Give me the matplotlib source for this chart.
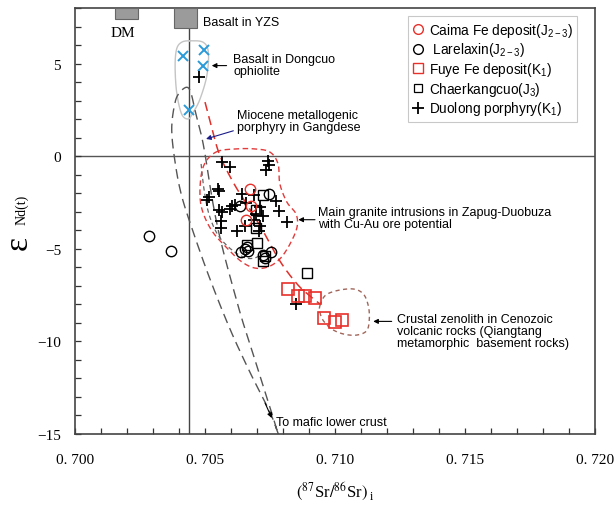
import numpy as np
import matplotlib
matplotlib.use('Agg')
import matplotlib.pyplot as plt
from matplotlib.lines import Line2D
from matplotlib.patches import Rectangle
from matplotlib.ticker import MultipleLocator, FixedLocator
from matplotlib import font_manager

# ---- data (87Sr/86Sr)i , eNd(t) ----
caima_sr = [0.70673, 0.70677, 0.70658]
caima_nd = [-1.77, -2.69, -3.43]

larelaxin_sr = [0.70285, 0.70369, 0.70635, 0.70747, 0.70640, 0.70654,
                0.70667, 0.70662, 0.70722, 0.70731, 0.70754]
larelaxin_nd = [-4.29, -5.10, -2.67, -2.04, -5.17, -5.01,
                -5.12, -4.93, -5.34, -5.50, -5.17]

fuye_sr = [0.70820, 0.70859, 0.70885, 0.70923, 0.70959, 0.71000, 0.71026]
fuye_nd = [-7.17, -7.53, -7.53, -7.68, -8.76, -8.97, -8.85]

chaer_sr = [0.70724, 0.70696, 0.70696, 0.70660, 0.70700, 0.70722, 0.70731, 0.70891]
chaer_nd = [-2.10, -2.89, -3.90, -4.77, -4.69, -5.64, -5.39, -6.31]

duolong_sr = [0.70478, 0.70565, 0.70596, 0.70743, 0.70747, 0.70735, 0.70550,
              0.70554, 0.70515, 0.70506, 0.70642, 0.70688, 0.70773, 0.70604,
              0.70617, 0.70596, 0.70658, 0.70552, 0.70565, 0.70560, 0.70560,
              0.70712, 0.70696, 0.70724, 0.70688, 0.70786, 0.70814, 0.70624,
              0.70654, 0.70712, 0.70709, 0.70849]
duolong_nd = [4.26, -0.32, -0.60, -0.25, -0.48, -0.75, -1.75,
              -1.88, -2.18, -2.34, -2.04, -2.10, -2.42, -2.69,
              -2.64, -2.83, -2.53, -2.93, -3.02, -3.48, -3.90,
              -2.76, -3.12, -3.25, -3.42, -2.95, -3.57, -4.02,
              -3.75, -3.75, -4.02, -7.98]

dongcuo_sr = [0.70414, 0.70497, 0.70493, 0.70440]
dongcuo_nd = [5.39, 5.75, 4.88, 2.49]

# reference fields / curves
bse_sr = 0.70438
dm_box = (0.70154, 0.70241, 7.41, 8.0)
yzs_box = (0.70382, 0.70468, 6.90, 8.0)

dongcuo_field_sr = [0.70442, 0.70493, 0.70513, 0.70507, 0.70481, 0.70455,
                    0.70436, 0.70410, 0.70391, 0.70385, 0.70391, 0.70410]
dongcuo_field_nd = [6.23, 6.15, 5.61, 4.34, 3.09, 2.37,
                    2.01, 2.28, 3.45, 4.88, 5.79, 6.15]

miocene_sr = [0.70782, 0.70750, 0.70673, 0.70596, 0.70519, 0.70455, 0.70410,
              0.70385, 0.70372, 0.70385, 0.70404, 0.70430, 0.70446,
              0.70465, 0.70485, 0.70500, 0.70515, 0.70531, 0.70550, 0.70573,
              0.70604, 0.70642, 0.70685, 0.70727, 0.70758, 0.70781]
miocene_nd = [-15.0, -13.83, -11.67, -9.33, -6.63, -4.11, -2.13,
              -0.33, 1.47, 2.91, 3.46, 3.72, 3.41,
              2.28, 1.20, 0.12, -1.23, -2.58, -3.93, -5.28,
              -6.90, -8.79, -10.68, -12.57, -13.92, -15.0]

arc_sr = [0.70485, 0.70496, 0.70515, 0.70550, 0.70604, 0.70658, 0.70700, 0.70723]
arc_nd = [-0.42, -1.77, -3.12, -4.26, -5.07, -5.50, -5.45, -5.12]

granite_sr = [0.70542, 0.70615, 0.70692, 0.70750, 0.70781, 0.70788, 0.70815,
              0.70850, 0.70854, 0.70827, 0.70788, 0.70742, 0.70692, 0.70642,
              0.70588, 0.70527, 0.70488, 0.70481, 0.70496]
granite_nd = [0.22, 0.39, 0.39, 0.22, -0.42, -1.50, -2.48,
              -3.12, -3.83, -4.74, -5.55, -5.98, -6.04, -5.71,
              -5.01, -4.04, -2.85, -1.67, -0.48]

zenolith_sr = [0.70942, 0.70962, 0.71007, 0.71070, 0.71109, 0.71128, 0.71132,
               0.71122, 0.71083, 0.71032, 0.70987, 0.70955, 0.70942]
zenolith_nd = [-8.07, -7.53, -7.26, -7.17, -7.44, -8.07, -8.79,
               -9.42, -9.66, -9.60, -9.33, -8.88, -8.43]

mixing_sr = [0.70500, 0.70527, 0.70558, 0.70612, 0.70665, 0.70719,
             0.70788, 0.70854, 0.70904, 0.70942]
mixing_nd = [2.92, 1.47, 0.01, -1.50, -2.69, -3.93,
             -5.66, -6.90, -7.55, -7.98]

xtick_vals = [0.700, 0.705, 0.710, 0.715, 0.720]
xtick_labels = ['0. 700', '0. 705', '0. 710', '0. 715', '0. 720']
ytick_vals = [5, 0, -5, -10, -15]
ytick_labels = ['5', '0', '\u22125', '\u221210', '\u221215']

names = {f.name for f in font_manager.fontManager.ttflist}
NARROW = 'Liberation Sans Narrow' if 'Liberation Sans Narrow' in names else 'Liberation Sans'
ANN_FS = 10 if NARROW == 'Liberation Sans Narrow' else 9.0
LEG_FS = 11.5 if NARROW == 'Liberation Sans Narrow' else 9.8
SERIF = 'Liberation Serif'
plt.rcParams['mathtext.fontset'] = 'custom'
plt.rcParams['mathtext.rm'] = NARROW
plt.rcParams['mathtext.it'] = NARROW


def smooth(xs, ys, closed=False, n=24):
    # Catmull-Rom through the points, in roughly isotropic units
    P = np.column_stack([np.asarray(xs) * 26000, np.asarray(ys) * 18.52])
    if closed:
        P = np.vstack([P[-1], P, P[0], P[1]])
    else:
        P = np.vstack([2 * P[0] - P[1], P, 2 * P[-1] - P[-2]])
    t = np.linspace(0, 1, n, endpoint=False)[:, None]
    out = []
    for i in range(1, len(P) - 2):
        p0, p1, p2, p3 = P[i - 1], P[i], P[i + 1], P[i + 2]
        seg = 0.5 * (2 * p1 + (-p0 + p2) * t + (2 * p0 - 5 * p1 + 4 * p2 - p3) * t ** 2
                     + (-p0 + 3 * p1 - 3 * p2 + p3) * t ** 3)
        out.append(seg)
    out.append(P[-2][None])
    R = np.vstack(out)
    return R[:, 0] / 26000, R[:, 1] / 18.52


fig = plt.figure(figsize=(6.14, 5.06), dpi=100)
ax = fig.add_axes([75 / 614, 1 - 435 / 506, 520 / 614, 426 / 506])
ax.set_xlim(0.700, 0.720)
ax.set_ylim(-15, 8)

# reference lines
ax.axhline(0, color='#555555', lw=1.0, zorder=1)
ax.axvline(bse_sr, color='#444444', lw=1.0, zorder=1)
for x0, x1, y0, y1 in (dm_box, yzs_box):
    ax.add_patch(Rectangle((x0, y0), x1 - x0, y1 - y0, facecolor='#9b9b9b',
                           edgecolor='#666666', lw=0.8, zorder=3, clip_on=False))

# fields
fx, fy = smooth(dongcuo_field_sr, dongcuo_field_nd, closed=True)
ax.plot(fx, fy, color='#c4c4c4', lw=1.0, zorder=2)
fx, fy = smooth(miocene_sr, miocene_nd)
ax.plot(fx, fy, color='#555555', lw=1.0, dashes=(7, 4), zorder=2)
fx, fy = smooth(arc_sr, arc_nd)
ax.plot(fx, fy, color='#666666', lw=0.9, dashes=(3.5, 2.5), zorder=2)
fx, fy = smooth(granite_sr, granite_nd, closed=True)
ax.plot(fx, fy, color='#e23b3b', lw=1.0, dashes=(4, 2.5), zorder=2)
fx, fy = smooth(zenolith_sr, zenolith_nd, closed=True)
ax.plot(fx, fy, color='#a0665a', lw=1.0, dashes=(3, 2.5), zorder=2)
fx, fy = smooth(mixing_sr, mixing_nd)
ax.plot(fx, fy, color='#e0302a', lw=1.1, dashes=(6, 3.5), zorder=2)

# samples
red = '#e8302a'
ax.plot(dongcuo_sr, dongcuo_nd, 'x', color='#2a9ad8', ms=7, mew=1.4, zorder=5)
ax.plot(duolong_sr, duolong_nd, '+', color='black', ms=9, mew=1.3, zorder=5)
ax.plot(larelaxin_sr, larelaxin_nd, 'o', mfc='none', mec='black', ms=7.5, mew=1.0, zorder=5)
ax.plot(chaer_sr, chaer_nd, 's', mfc='none', mec='black', ms=6.5, mew=1.0, zorder=5)
ax.plot(caima_sr, caima_nd, 'o', mfc='none', mec=red, ms=7.5, mew=1.0, zorder=6)
ax.plot(fuye_sr, fuye_nd, 's', mfc='none', mec=red, ms=8.5, mew=1.2, zorder=6)

# labels and arrows
ax.text(0.70185, 6.70, 'DM', family=SERIF, fontsize=11, ha='center', va='center')
ax.text(0.70492, 7.24, 'Basalt in YZS', family=NARROW, fontsize=ANN_FS, va='center')
ax.text(0.70608, 4.92, 'Basalt in Dongcuo\nophiolite', family=NARROW, fontsize=ANN_FS,
        va='center', linespacing=1.05)
ax.text(0.70623, 1.90, 'Miocene metallogenic\nporphyry in Gangdese', family=NARROW,
        fontsize=ANN_FS, va='center', linespacing=1.05)
ax.text(0.70935, -3.34, 'Main granite intrusions in Zapug-Duobuza\nwith Cu-Au ore potential',
        family=NARROW, fontsize=ANN_FS, va='center', linespacing=1.05)
ax.text(0.71238, -9.44, 'Crustal zenolith in Cenozoic\nvolcanic rocks (Qiangtang\n'
        'metamorphic  basement rocks)', family=NARROW, fontsize=ANN_FS, va='center',
        linespacing=1.05)
ax.text(0.70773, -14.35, 'To mafic lower crust', family=NARROW, fontsize=ANN_FS, va='center')


def arrow(p0, p1, color='black'):
    ax.annotate('', xy=p1, xytext=p0,
                arrowprops=dict(arrowstyle='-|>', color=color, lw=0.8,
                                mutation_scale=7, shrinkA=0, shrinkB=0))


arrow((0.70583, 4.89), (0.70526, 4.89))
arrow((0.70609, 1.37), (0.70504, 0.93), color='#1c1c8a')
arrow((0.70923, -3.43), (0.70859, -3.43))
arrow((0.71218, -8.92), (0.71147, -8.92))
arrow((0.70731, -13.33), (0.70757, -14.14))

# axes styling
ax.xaxis.set_major_locator(FixedLocator(xtick_vals))
ax.set_xticklabels(xtick_labels, family=SERIF, fontsize=11)
ax.xaxis.set_minor_locator(MultipleLocator(0.001))
ax.yaxis.set_major_locator(FixedLocator(ytick_vals))
ax.set_yticklabels(ytick_labels, family=SERIF, fontsize=11)
ax.yaxis.set_minor_locator(MultipleLocator(1))
ax.tick_params(which='both', direction='in', length=4, width=0.9, color='#333333')
ax.tick_params(axis='x', which='major', pad=14)
ax.tick_params(axis='y', which='major', pad=10)
for sp in ax.spines.values():
    sp.set_color('#444444')
    sp.set_linewidth(1.2)

fig.text(18 / 614, 1 - 243 / 506, '\u03b5', family=SERIF, fontsize=24, rotation=90,
         ha='center', va='center')
fig.text(22 / 614, 1 - 210 / 506, 'Nd(t)', family=SERIF, fontsize=10, rotation=90,
         ha='center', va='center')
fig.text(335 / 614, 1 - 492 / 506,
         r'$(^{87}\mathregular{Sr}/^{86}\mathregular{Sr})_{\ \mathregular{i}}$',
         family=SERIF, fontsize=12, ha='center', va='center', math_fontfamily='stix')

handles = [
    Line2D([], [], ls='none', marker='o', mfc='none', mec=red, ms=7, mew=1.0,
           label='Caima Fe deposit(J$_{2-3}$)'),
    Line2D([], [], ls='none', marker='o', mfc='none', mec='black', ms=7, mew=1.0,
           label=' Larelaxin(J$_{2-3}$)'),
    Line2D([], [], ls='none', marker='s', mfc='none', mec=red, ms=7, mew=1.0,
           label='Fuye Fe deposit(K$_{1}$)'),
    Line2D([], [], ls='none', marker='s', mfc='none', mec='black', ms=6, mew=0.9,
           label='Chaerkangcuo(J$_{3}$)'),
    Line2D([], [], ls='none', marker='+', color='black', ms=9, mew=1.3,
           label='Duolong porphyry(K$_{1}$)'),
]
leg = ax.legend(handles=handles, loc='upper left', bbox_to_anchor=(0.640, 0.981),
                prop={'family': NARROW, 'size': LEG_FS}, frameon=True, fancybox=False,
                edgecolor='#bbbbbb', handlelength=0.8, handletextpad=0.4,
                labelspacing=0.12, borderpad=0.35, borderaxespad=0)
leg.get_frame().set_linewidth(0.8)

fig.savefig('out.png', dpi=100, facecolor='white')
